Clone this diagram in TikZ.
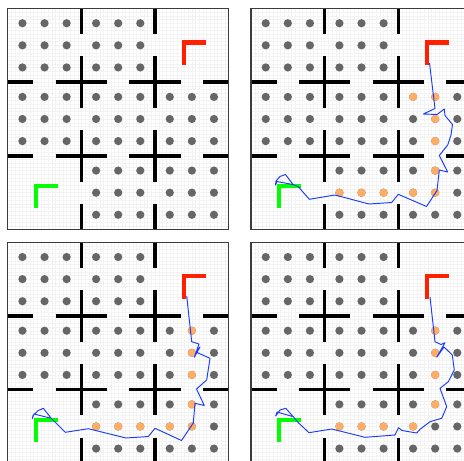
\documentclass[tikz,border=0pt]{standalone}
\definecolor{dotgrey}{RGB}{102,102,102}
\definecolor{dotorange}{RGB}{255,172,100}
\definecolor{gridc}{RGB}{243,243,243}
\definecolor{trajblue}{RGB}{25,60,255}
\definecolor{goalred}{RGB}{255,32,0}
\definecolor{startgreen}{RGB}{0,255,0}
\definecolor{framec}{RGB}{60,60,60}
\tikzset{
  wall/.style={line width=3.6pt, black},
  gridline/.style={gridc, line width=0.35pt},
  panelframe/.style={framec, line width=1.2pt},
  marker/.style={line width=4.3pt},
  traj/.style={trajblue, line width=0.95pt, line join=round}
}
\newcommand\drawpanel[3]{%
\begin{scope}[shift={(#1,#2)},x=7.3667pt,y=-7.3667pt]
  \fill[white] (0,0) rectangle (30,30);
  \foreach \g in {0.5,1,...,29.5}{\draw[gridline] (\g,0)--(\g,30); \draw[gridline] (0,\g)--(30,\g);}
  \foreach \c/\r in {0/0,1/0,0/1,1/1,2/1,1/2,2/2}{
    \foreach \i in {2,5,8}{\foreach \j in {2,5,8}{\fill[dotgrey] (10*\c+\i,10*\r+\j) circle (4.1pt);}}}
  \foreach \p in {#3}{\fill[dotorange] (\p) circle (4.1pt);}
  \foreach \w in {10,20}{
    \foreach \a/\b in {0/3.5,6.5/13.5,16.5/23.5,26.5/30}{
      \draw[wall] (\w,\a)--(\w,\b);
      \draw[wall] (\a,\w)--(\b,\w);}}
  \draw[marker, goalred] (26.9,4.6)--(23.9,4.6)--(23.9,7.7);
  \draw[marker, startgreen] (6.8,24.1)--(3.8,24.1)--(3.8,27.1);
  \draw[panelframe] (0,0) rectangle (30,30);
\end{scope}}
\begin{document}
\begin{tikzpicture}[x=1pt,y=-1pt]
\useasboundingbox (0,0) rectangle (464,461);
\clip (0,0) rectangle (464,461);
\fill[white] (0,0) rectangle (464,461);
\drawpanel{7.7}{8.5}{}
\drawpanel{251}{8.5}{{22,12},{25,12},{25,15},{25,18},{25,22},{12,25},{15,25},{18,25},{22,25},{25,25}}
\drawpanel{7.7}{242.3}{{25,12},{25,15},{25,18},{25,22},{12,25},{15,25},{18,25},{22,25},{25,25}}
\drawpanel{251}{242.3}{{25,12},{25,15},{25,18},{25,22},{12,25},{15,25},{18,25},{22,25}}
% panel 2 trajectory
\draw[traj] (429.5,63) -- (435,108.5) -- (423.3,114) -- (437,114.5) -- (444.3,109) -- (445,115.5) -- (452.5,124.5) -- (451,135) -- (447.7,145) -- (439.3,155.5) -- (447.7,172) -- (439.3,170) -- (437,190.5) -- (426.5,206.5) -- (398.3,194.3) -- (391.7,202.5) -- (369,204) -- (335,195) -- (309.3,199.3) -- (298.3,186.7) -- (293,184.5) -- (285.5,174.5) -- (280,176.5) -- (276,181) -- (275.5,185) -- (277,181.5) -- (292.5,184.5);
% panel 3 trajectory
\draw[traj] (186.7,296) -- (191.7,341.7) -- (199,344) -- (194.3,357.3) -- (200,347) -- (196,352) -- (210,358.3) -- (206.7,380) -- (196.5,389) -- (204.3,405.5) -- (195,403.3) -- (193.3,423) -- (181.5,440.5) -- (155,428.3) -- (148.3,436.5) -- (126,438) -- (88.3,428.7) -- (65.3,432.3) -- (56,423) -- (51,418) -- (43.3,408.3) -- (38.3,410.5) -- (33,415.5) -- (32.3,418.5) -- (34,414) -- (50,418);
% panel 4 trajectory
\draw[traj] (430,297) -- (435,341.7) -- (441,344.5) -- (445,342.7) -- (436.7,357.3) -- (444,347) -- (452.3,355) -- (454.3,370) -- (448.3,381.7) -- (440,388.3) -- (446.7,406.7) -- (441.7,418.3) -- (430,421.7) -- (420,429.3) -- (416.7,433) -- (402,430.5) -- (398.5,427.7) -- (395,435) -- (365,437.3) -- (331.7,429) -- (309,432.7) -- (298.3,422.7) -- (293.3,416.7) -- (285.7,408.3) -- (280,410) -- (275.7,416) -- (277,412) -- (293.3,416.7);
\end{tikzpicture}
\end{document}
